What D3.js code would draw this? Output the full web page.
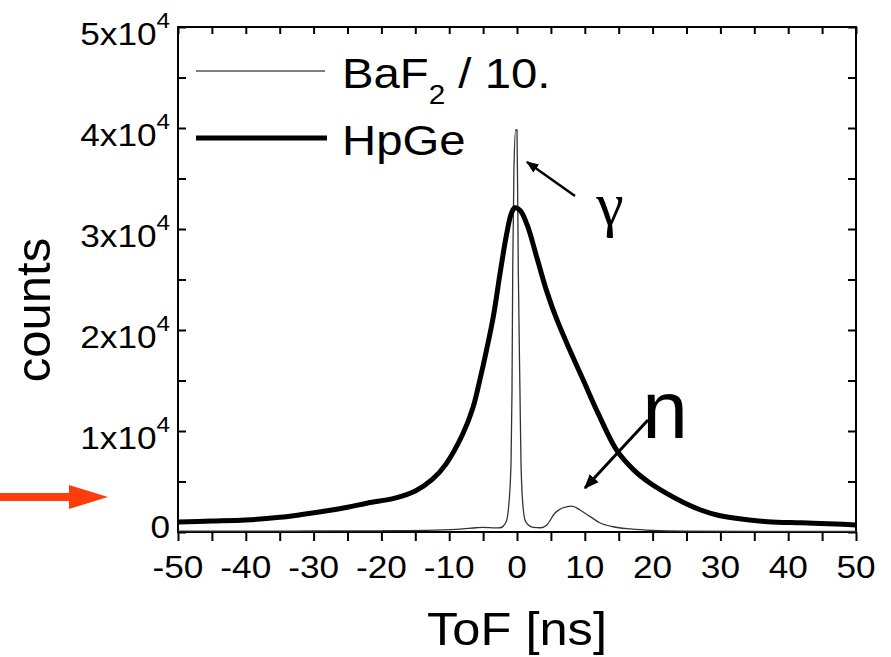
<!DOCTYPE html>
<html>
<head>
<meta charset="utf-8">
<script src="https://cdn.jsdelivr.net/npm/d3@7"></script>
<style>
    html, body { margin: 0; padding: 0; background: #fff; }
    svg { display: block; }
    text { font-family: "Liberation Sans", Arial, Helvetica, sans-serif; fill: #000; }
</style>
</head>
<body>
<svg id="chart"></svg>
<script>
// HpGe time-of-flight spectrum (counts)
const hpgeTime = [-50, -45, -40, -35, -32, -28, -25, -22, -18, -15, -12.5, -10.5, -8, -6.5, -5.5, -4.5, -3.5, -2.5, -1.5, -0.8, -0.3,
    0.5, 1.5, 3, 4.4, 5.9, 7.8, 9.8, 12, 14.7, 17.2, 19.6, 22, 24.5, 27, 29.5, 32, 37, 42, 47, 50];
const hpgeCounts = [1000, 1080, 1180, 1450, 1700, 2100, 2450, 2870, 3350, 4050, 5200, 6700, 9700, 12300, 15000, 18000, 21300, 25600, 29600, 31600, 32100,
    31800, 30400, 27000, 23800, 21000, 18000, 15000, 11700, 8100, 6150, 4850, 3850, 2950, 2200, 1680, 1380, 1020, 910, 790, 700];

// BaF2 spectrum, already divided by 10
const bafTime = [-50, -40, -30, -20, -12, -8, -6, -5, -4, -3, -2.5, -2, -1.5, -1.28, -0.88, -0.74, -0.63, -0.45, -0.2, 0,
    0.19, 0.44, 0.59, 0.93, 1.3, 2.4, 3.5, 4.4, 5.6, 6.8, 8.1, 9.3, 10.8, 12.2, 14.2, 16.7, 20, 25, 35, 50];
const bafCounts = [80, 80, 100, 120, 180, 300, 420, 450, 430, 400, 420, 600, 1200, 2200, 6800, 13800, 26000, 36000, 39800, 39800,
    26000, 13800, 6800, 2200, 1000, 450, 420, 700, 1880, 2400, 2570, 2180, 1520, 920, 520, 300, 150, 80, 60, 50];

const xTickValues = [-50, -40, -30, -20, -10, 0, 10, 20, 30, 40, 50];
const yTickValues = [0, 10000, 20000, 30000, 40000, 50000];
const yTickMantissa = ["0", "1", "2", "3", "4", "5"];

const width = 891;
const height = 657;
const margin = { left: 178, right: 35, top: 27, bottom: 125 };
const stretch = 1.1; // the source fonts are a little wider than Arial

const svg = d3.select("#chart")
    .attr("width", width)
    .attr("height", height);

const x = d3.scaleLinear().domain([-50, 50]).range([margin.left, width - margin.right]);
const y = d3.scaleLinear().domain([0, 50000]).range([height - margin.bottom, margin.top]);

const x0 = x.range()[0], x1 = x.range()[1];
const y0 = y.range()[0], y1 = y.range()[1];

function addText(px, py, str, size, anchor) {
    return svg.append("text")
        .attr("transform", `translate(${px},${py}) scale(${stretch},1)`)
        .attr("text-anchor", anchor)
        .style("font-size", size + "px")
        .text(str);
}

svg.append("clipPath").attr("id", "plotClip")
    .append("rect")
    .attr("x", x0).attr("y", y1)
    .attr("width", x1 - x0).attr("height", y0 - y1);

// axes: bottom ticks outward, the other three sides inward
const minorX = d3.range(-50, 51, 5);
const minorY = d3.range(0, 50001, 5000);

svg.append("g")
    .attr("transform", `translate(0,${y0})`)
    .call(d3.axisBottom(x).tickValues(minorX).tickSize(9).tickFormat(""))
    .call(g => g.select(".domain").remove())
    .call(g => g.selectAll("line").attr("stroke-width", 2));

svg.append("g")
    .attr("transform", `translate(0,${y1})`)
    .call(d3.axisBottom(x).tickValues(minorX).tickSize(7).tickFormat(""))
    .call(g => g.select(".domain").remove())
    .call(g => g.selectAll("line").attr("stroke-width", 2));

svg.append("g")
    .attr("transform", `translate(${x0},0)`)
    .call(d3.axisRight(y).tickValues(minorY).tickSize(8).tickFormat(""))
    .call(g => g.select(".domain").remove())
    .call(g => g.selectAll("line").attr("stroke-width", 2));

svg.append("g")
    .attr("transform", `translate(${x1},0)`)
    .call(d3.axisLeft(y).tickValues(minorY).tickSize(8).tickFormat(""))
    .call(g => g.select(".domain").remove())
    .call(g => g.selectAll("line").attr("stroke-width", 2));

svg.append("rect")
    .attr("x", x0).attr("y", y1)
    .attr("width", x1 - x0).attr("height", y0 - y1)
    .attr("fill", "none")
    .attr("stroke", "#000")
    .attr("stroke-width", 2);

// tick labels
xTickValues.forEach(v => {
    addText(x(v), y0 + 46, String(v), 32, "middle");
});

yTickValues.forEach((v, i) => {
    const t = svg.append("text")
        .attr("transform", `translate(170,${y(v) + (v === 0 ? 6 : 18)}) scale(${stretch},1)`)
        .attr("text-anchor", "end")
        .style("font-size", "32px");
    if (v === 0) {
        t.text("0");
    } else {
        t.append("tspan").text(yTickMantissa[i] + "x10");
        t.append("tspan").attr("dy", -17).style("font-size", "22px").text("4");
    }
});

// axis titles
addText(517, 645, "ToF [ns]", 46, "middle");
svg.append("text")
    .attr("transform", "translate(50,310) rotate(-90)")
    .attr("text-anchor", "middle")
    .style("font-size", "49px")
    .text("counts");

// curves
const hpgeData = hpgeTime.map((t, i) => [t, hpgeCounts[i]]);
const bafData = bafTime.map((t, i) => [t, bafCounts[i]]);

const bafLine = d3.line()
    .x(d => x(d[0]))
    .y(d => y(d[1]))
    .curve(d3.curveMonotoneX);

const hpgeLine = d3.line()
    .x(d => x(d[0]))
    .y(d => y(d[1]))
    .curve(d3.curveCatmullRom.alpha(0.5));

const plot = svg.append("g").attr("clip-path", "url(#plotClip)");

plot.append("path")
    .datum(bafData)
    .attr("d", bafLine)
    .attr("fill", "none")
    .attr("stroke", "#333")
    .attr("stroke-width", 1.3);

plot.append("path")
    .datum(hpgeData)
    .attr("d", hpgeLine)
    .attr("fill", "none")
    .attr("stroke", "#000")
    .attr("stroke-width", 5)
    .attr("stroke-linejoin", "round");

// legend
svg.append("line")
    .attr("x1", 196).attr("x2", 325).attr("y1", 71).attr("y2", 71)
    .attr("stroke", "#555").attr("stroke-width", 1.5);
svg.append("line")
    .attr("x1", 196).attr("x2", 327).attr("y1", 138).attr("y2", 138)
    .attr("stroke", "#000").attr("stroke-width", 5);

const bafLabel = svg.append("text")
    .attr("transform", `translate(342,88) scale(${stretch},1)`)
    .style("font-size", "43px");
bafLabel.append("tspan").text("BaF");
bafLabel.append("tspan").attr("dy", 16).style("font-size", "27px").text("2");
bafLabel.append("tspan").attr("dy", -16).text(" / 10.");

addText(342, 155, "HpGe", 43, "start");

// annotations
const defs = svg.append("defs");
defs.append("marker")
    .attr("id", "head")
    .attr("viewBox", "0 0 10 10")
    .attr("refX", 9).attr("refY", 5)
    .attr("markerWidth", 5).attr("markerHeight", 5)
    .attr("markerUnits", "strokeWidth")
    .attr("orient", "auto")
    .append("path")
    .attr("d", "M0,1 L10,5 L0,9 Z")
    .attr("fill", "#000");

svg.append("line")
    .attr("x1", 575).attr("y1", 196).attr("x2", 527).attr("y2", 162)
    .attr("stroke", "#000").attr("stroke-width", 2.5)
    .attr("marker-end", "url(#head)");
svg.append("text")
    .attr("x", 610).attr("y", 225)
    .attr("text-anchor", "middle")
    .style("font-family", "'Liberation Serif', 'Times New Roman', serif")
    .style("font-size", "62px")
    .text("γ");

svg.append("line")
    .attr("x1", 648).attr("y1", 420).attr("x2", 585).attr("y2", 488)
    .attr("stroke", "#000").attr("stroke-width", 3)
    .attr("marker-end", "url(#head)");
svg.append("text")
    .attr("x", 665).attr("y", 438)
    .attr("text-anchor", "middle")
    .style("font-size", "82px")
    .text("n");

// red pointer on the left
svg.append("rect")
    .attr("x", 0).attr("y", 493).attr("width", 72).attr("height", 8)
    .attr("fill", "#fe3c0c");
svg.append("path")
    .attr("d", "M69,485 L108,497 L69,509 Z")
    .attr("fill", "#fe3c0c");
</script>
</body>
</html>
